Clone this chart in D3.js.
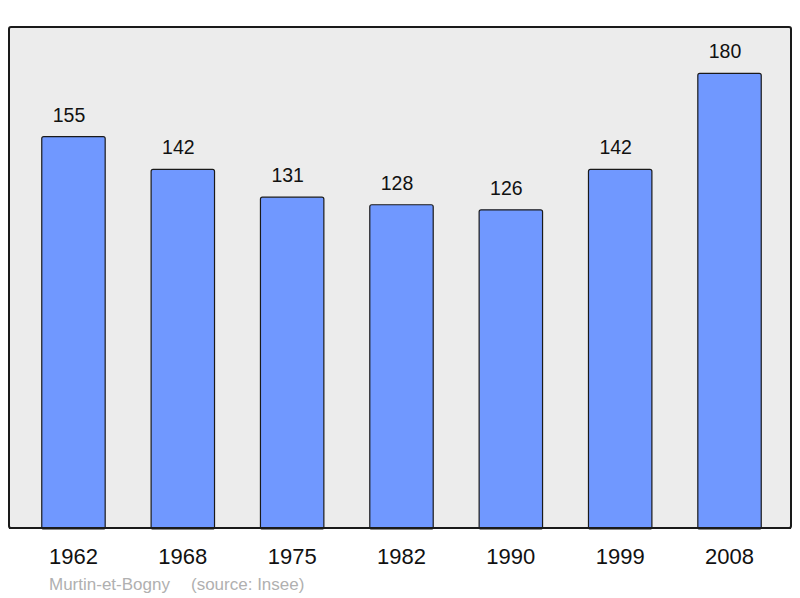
<!DOCTYPE html>
<html>
<head>
<meta charset="utf-8">
<script src="https://cdn.jsdelivr.net/npm/d3@7"></script>
<style>
  html, body { margin: 0; padding: 0; background: #fff; }
  svg { display: block; font-family: "Liberation Sans", Arial, sans-serif; }
</style>
</head>
<body>
<svg id="chart" width="800" height="598"></svg>
<script>
const years = ["1962", "1968", "1975", "1982", "1990", "1999", "2008"];
const population = [155, 142, 131, 128, 126, 142, 180];
const commune = "Murtin-et-Bogny";
const source = "(source: Insee)";

const svg = d3.select("#chart");
const frame = { x0: 9, x1: 791, y0: 27, y1: 528 };

const x = d3.scaleBand()
  .domain(years)
  .range([18.8, 784.2])
  .paddingInner(0.42)
  .paddingOuter(0.21);

const y = d3.scaleLinear()
  .domain([0, 198.4])
  .range([frame.y1, frame.y0]);

// plot background frame
svg.append("rect")
  .attr("x", frame.x0).attr("y", frame.y0)
  .attr("width", frame.x1 - frame.x0).attr("height", frame.y1 - frame.y0)
  .attr("rx", 2).attr("ry", 2)
  .attr("fill", "#ececec")
  .attr("stroke", "#1a1a1a")
  .attr("stroke-width", 2);

const data = years.map((yr, i) => ({ year: yr, value: population[i] }));

svg.append("g").selectAll("rect")
  .data(data)
  .join("rect")
  .attr("x", d => x(d.year))
  .attr("y", d => y(d.value))
  .attr("width", x.bandwidth())
  .attr("height", d => y(0) - y(d.value) + 1)
  .attr("rx", 2).attr("ry", 2)
  .attr("fill", "#7098ff")
  .attr("stroke", "#1a1a1a")
  .attr("stroke-width", 1.2);

// redraw bottom frame line over bars
svg.append("line")
  .attr("x1", frame.x0).attr("x2", frame.x1)
  .attr("y1", frame.y1).attr("y2", frame.y1)
  .attr("stroke", "#1a1a1a").attr("stroke-width", 2);

// value labels
svg.append("g").selectAll("text")
  .data(data)
  .join("text")
  .attr("x", d => x(d.year) + x.bandwidth() / 2 - 4.5)
  .attr("y", d => y(d.value) - 15)
  .attr("text-anchor", "middle")
  .attr("font-size", 19.5)
  .attr("fill", "#111")
  .text(d => d.value);

// x axis labels
const xAxis = d3.axisBottom(x).tickSize(0).tickPadding(0);
const ax = svg.append("g")
  .attr("transform", `translate(0, ${frame.y1})`)
  .call(xAxis);
ax.select(".domain").remove();
ax.selectAll("text")
  .attr("dy", null)
  .attr("y", 36)
  .attr("font-size", 22)
  .attr("font-family", "Liberation Sans, Arial, sans-serif")
  .attr("fill", "#111");

// footer
svg.append("text")
  .attr("x", 49).attr("y", 590)
  .attr("font-size", 17)
  .attr("fill", "#b0b0b0")
  .text(commune);
svg.append("text")
  .attr("x", 191).attr("y", 590)
  .attr("font-size", 17)
  .attr("fill", "#b0b0b0")
  .text(source);
</script>
</body>
</html>
